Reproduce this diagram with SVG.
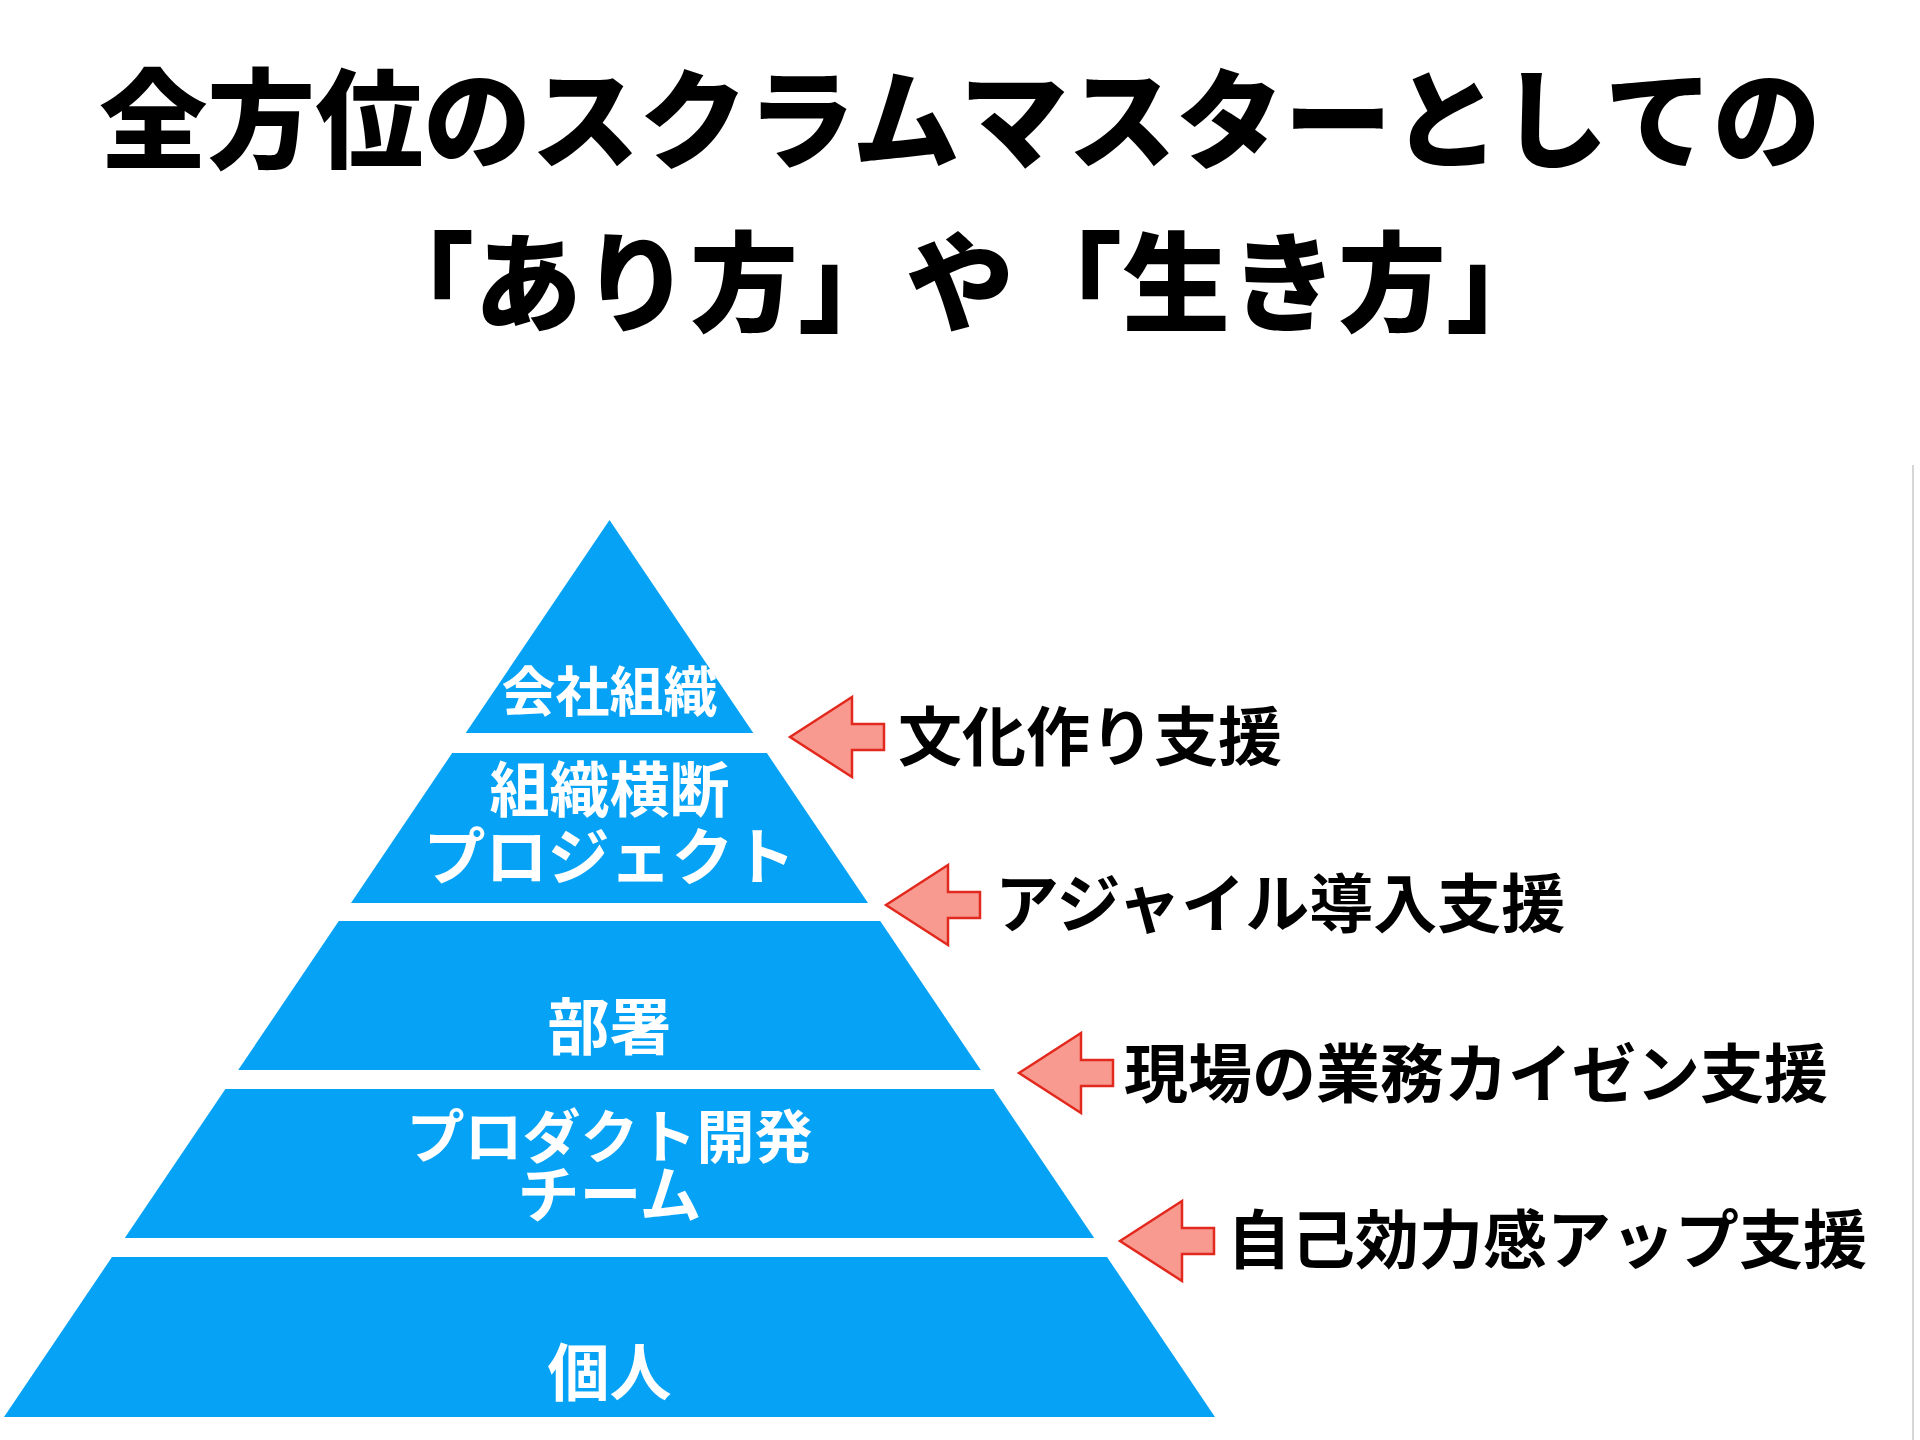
<svg xmlns="http://www.w3.org/2000/svg" width="1920" height="1440" viewBox="0 0 1920 1440">
<defs>
<style>
.title{font-family:"Noto Sans CJK JP","Noto Sans CJK SC",sans-serif;font-weight:900;font-size:108px;fill:#000;text-anchor:middle}
.band{fill:#05A2F5}
.bt{font-family:"Noto Sans CJK JP",sans-serif;font-weight:700;fill:#fff;text-anchor:middle}
.arrow{fill:#F99A90;stroke:#E2291E;stroke-width:2.5;stroke-linejoin:miter}
.lbl{font-family:"Noto Sans CJK JP",sans-serif;font-weight:700;font-size:64px;fill:#000}
</style>
<path id="arr" d="M0 0 L62 -40 L62 -13 L94 -13 L94 13 L62 13 L62 40 Z"/>
</defs>
<rect width="1920" height="1440" fill="#fff"/>
<g id="title">
<text class="title" x="960" y="160">全方位のスクラムマスターとしての</text>
<text class="title" x="960" y="323">「あり方」や「生き方」</text>
</g>
<line x1="1913" y1="465" x2="1913" y2="1440" stroke="#d6d6d6" stroke-width="2"/>
<g id="level-company">
<polygon class="band" points="609.5,520 753.3,733 465.7,733"/>
<text class="bt" x="609.5" y="712" font-size="54">会社組織</text>
</g>
<g id="level-crossorg">
<polygon class="band" points="452.2,753 766.8,753 868,903 351,903"/>
<text class="bt" x="609.5" y="812" font-size="60">組織横断</text>
<text class="bt" x="609.5" y="880" font-size="62">プロジェクト</text>
</g>
<g id="level-dept">
<polygon class="band" points="338.8,921 880.2,921 980.8,1070 238.2,1070"/>
<text class="bt" x="609.5" y="1050" font-size="62">部署</text>
</g>
<g id="level-team">
<polygon class="band" points="225.4,1089 993.6,1089 1094.2,1238 124.8,1238"/>
<text class="bt" x="609.5" y="1158" font-size="58">プロダクト開発</text>
<text class="bt" x="609.5" y="1218" font-size="62">チーム</text>
</g>
<g id="level-individual">
<polygon class="band" points="112,1257 1107,1257 1215,1417 4,1417"/>
<text class="bt" x="609.5" y="1396" font-size="62">個人</text>
</g>
<g id="connectors">
<use href="#arr" class="arrow" transform="translate(790,737)"/>
<use href="#arr" class="arrow" transform="translate(886,905)"/>
<use href="#arr" class="arrow" transform="translate(1019,1073)"/>
<use href="#arr" class="arrow" transform="translate(1120,1241)"/>
</g>
<g id="label-culture"><text class="lbl" x="898" y="760">文化作り支援</text></g>
<g id="label-agile"><text class="lbl" x="995" y="927">アジャイル導入支援</text></g>
<g id="label-kaizen"><text class="lbl" x="1124" y="1097">現場の業務カイゼン支援</text></g>
<g id="label-efficacy"><text class="lbl" x="1227" y="1263">自己効力感アップ支援</text></g>
</svg>
